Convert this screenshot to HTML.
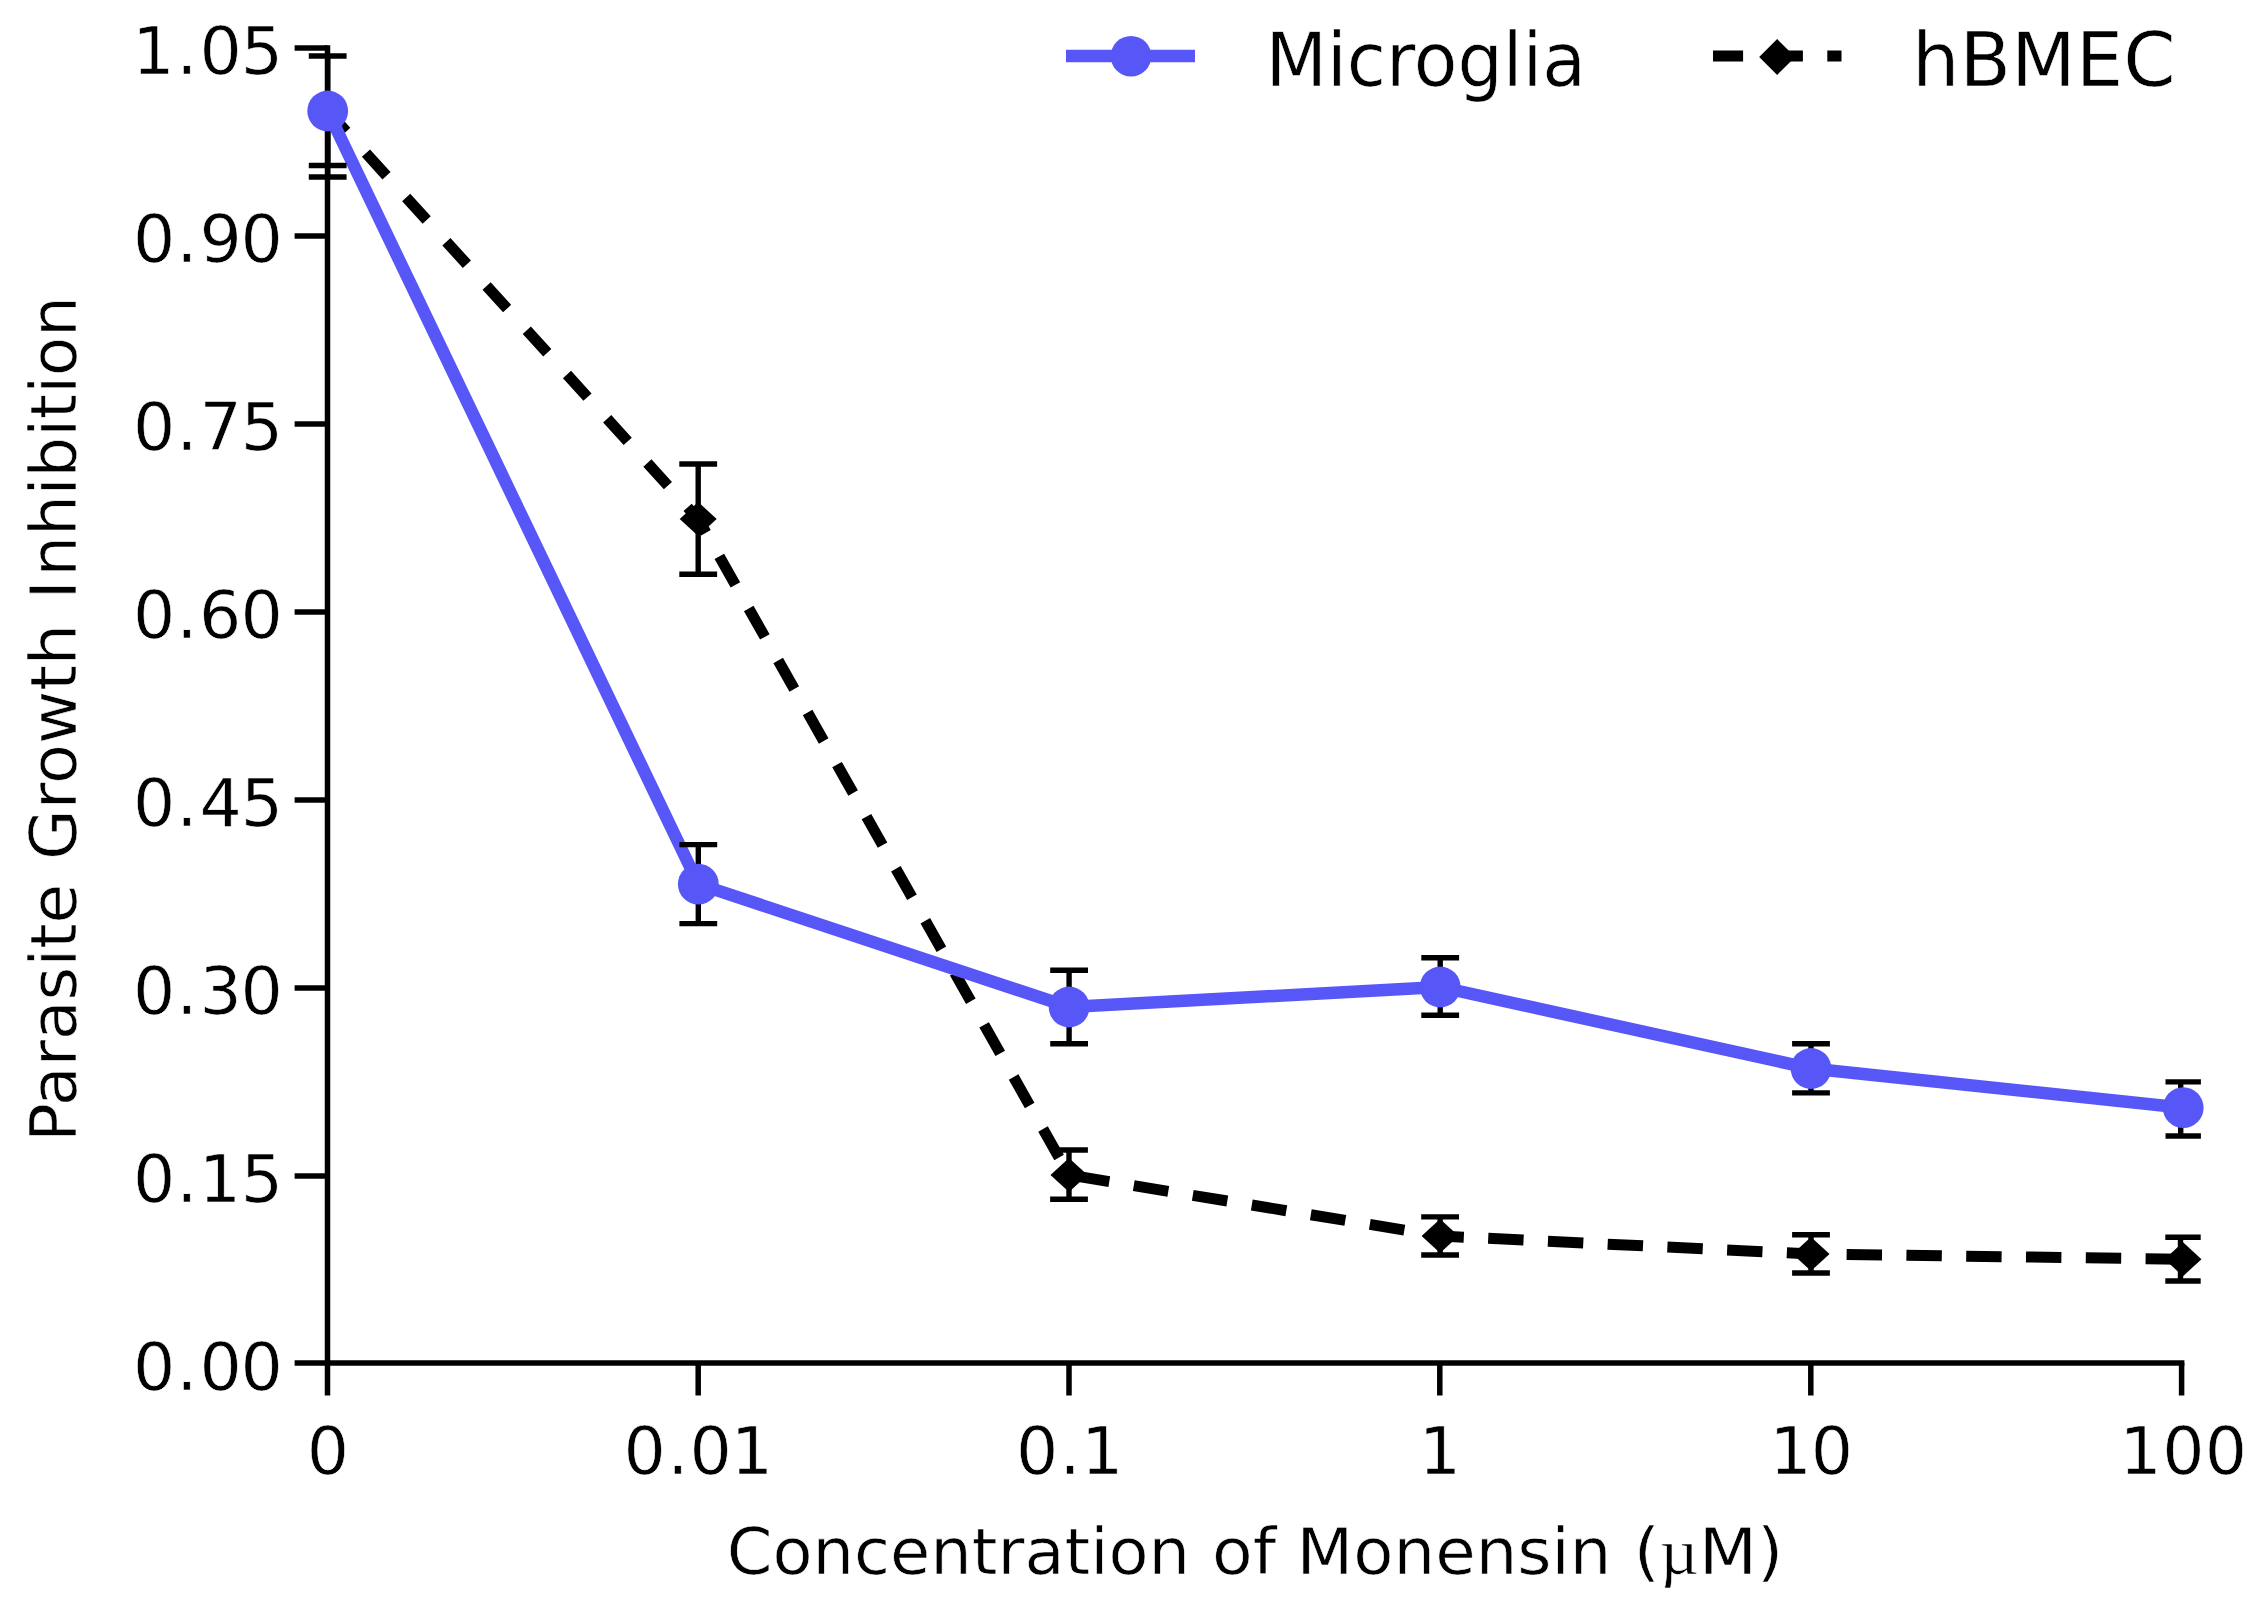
<!DOCTYPE html>
<html lang="en"><head><meta charset="utf-8"><title>Parasite Growth Inhibition vs Concentration of Monensin</title>
<style>html,body{margin:0;padding:0;background:#fff;}body{width:2266px;height:1615px;overflow:hidden;}svg{display:block;}text{font-family:'DejaVu Sans', 'Liberation Sans', sans-serif;fill:#000;stroke:#fff;stroke-width:0.6px;paint-order:fill stroke;}</style>
</head><body>
<svg width="2266" height="1615" viewBox="0 0 2266 1615">
<rect width="2266" height="1615" fill="#fff"/>
<g stroke="#000" stroke-width="5.5" fill="none" stroke-linecap="butt">
<line x1="327.5" y1="45.2" x2="327.5" y2="1395.5"/>
<line x1="294.6" y1="1363.0" x2="2184.4" y2="1363.0"/>
<line x1="294.6" y1="48.0" x2="327.5" y2="48.0"/>
<line x1="294.6" y1="236.0" x2="327.5" y2="236.0"/>
<line x1="294.6" y1="424.0" x2="327.5" y2="424.0"/>
<line x1="294.6" y1="612.0" x2="327.5" y2="612.0"/>
<line x1="294.6" y1="800.0" x2="327.5" y2="800.0"/>
<line x1="294.6" y1="988.0" x2="327.5" y2="988.0"/>
<line x1="294.6" y1="1176.0" x2="327.5" y2="1176.0"/>
<line x1="698.2" y1="1363.0" x2="698.2" y2="1395.5"/>
<line x1="1069.0" y1="1363.0" x2="1069.0" y2="1395.5"/>
<line x1="1439.8" y1="1363.0" x2="1439.8" y2="1395.5"/>
<line x1="1810.8" y1="1363.0" x2="1810.8" y2="1395.5"/>
<line x1="2181.6" y1="1363.0" x2="2181.6" y2="1395.5"/>
</g>
<g stroke="#000" stroke-width="11" fill="none" stroke-linecap="butt">
<line x1="327.7" y1="111.0" x2="698.2" y2="519.0" stroke-dasharray="30.5 29.3" stroke-dashoffset="2.85"/>
<line x1="698.2" y1="519.0" x2="1069.0" y2="1175.0" stroke-dasharray="32.7 27.1" stroke-dashoffset="16.87"/>
<line x1="1069.0" y1="1175.0" x2="1440.1" y2="1236.0" stroke-dasharray="35.0 24.8" stroke-dashoffset="53.96"/>
<line x1="1440.1" y1="1236.0" x2="1811.0" y2="1254.0" stroke-dasharray="35.4 24.4" stroke-dashoffset="11.65"/>
<line x1="1811.0" y1="1254.0" x2="2183.0" y2="1259.2" stroke-dasharray="35.4 24.4" stroke-dashoffset="24.18"/>
</g>
<polyline fill="none" stroke="#5757f8" stroke-width="12.5" stroke-linejoin="round" points="327.7,111.0 698.3,884.1 1069.1,1007.0 1440.2,987.0 1811.0,1068.5 2183.2,1107.7"/>
<g stroke="#000" stroke-width="5.4" fill="none">
<line x1="327.7" y1="111.0" x2="327.7" y2="177.0"/>
<line x1="308.8" y1="177.0" x2="346.6" y2="177.0"/>
<line x1="698.2" y1="464.0" x2="698.2" y2="574.3"/>
<line x1="679.3" y1="464.0" x2="717.1" y2="464.0"/>
<line x1="679.3" y1="574.3" x2="717.1" y2="574.3"/>
<line x1="1069.0" y1="1150.0" x2="1069.0" y2="1199.2"/>
<line x1="1050.1" y1="1150.0" x2="1087.9" y2="1150.0"/>
<line x1="1050.1" y1="1199.2" x2="1087.9" y2="1199.2"/>
<line x1="1440.1" y1="1216.9" x2="1440.1" y2="1255.0"/>
<line x1="1421.2" y1="1216.9" x2="1459.0" y2="1216.9"/>
<line x1="1421.2" y1="1255.0" x2="1459.0" y2="1255.0"/>
<line x1="1811.0" y1="1234.7" x2="1811.0" y2="1273.0"/>
<line x1="1792.1" y1="1234.7" x2="1829.9" y2="1234.7"/>
<line x1="1792.1" y1="1273.0" x2="1829.9" y2="1273.0"/>
<line x1="2180.5" y1="1237.3" x2="2180.5" y2="1281.0"/>
<line x1="2165.3" y1="1237.3" x2="2200.7" y2="1237.3"/>
<line x1="2165.3" y1="1281.0" x2="2200.7" y2="1281.0"/>
<line x1="327.7" y1="56.0" x2="327.7" y2="165.5"/>
<line x1="308.8" y1="56.0" x2="346.6" y2="56.0"/>
<line x1="308.8" y1="165.5" x2="346.6" y2="165.5"/>
<line x1="698.3" y1="844.6" x2="698.3" y2="923.6"/>
<line x1="679.4" y1="844.6" x2="717.2" y2="844.6"/>
<line x1="679.4" y1="923.6" x2="717.2" y2="923.6"/>
<line x1="1069.1" y1="970.2" x2="1069.1" y2="1043.7"/>
<line x1="1050.2" y1="970.2" x2="1088.0" y2="970.2"/>
<line x1="1050.2" y1="1043.7" x2="1088.0" y2="1043.7"/>
<line x1="1440.2" y1="957.8" x2="1440.2" y2="1015.2"/>
<line x1="1421.3" y1="957.8" x2="1459.1" y2="957.8"/>
<line x1="1421.3" y1="1015.2" x2="1459.1" y2="1015.2"/>
<line x1="1811.0" y1="1043.8" x2="1811.0" y2="1092.9"/>
<line x1="1792.1" y1="1043.8" x2="1829.9" y2="1043.8"/>
<line x1="1792.1" y1="1092.9" x2="1829.9" y2="1092.9"/>
<line x1="2180.7" y1="1081.9" x2="2180.7" y2="1136.0"/>
<line x1="2165.5" y1="1081.9" x2="2200.9" y2="1081.9"/>
<line x1="2165.5" y1="1136.0" x2="2200.9" y2="1136.0"/>
</g>
<polygon fill="#000" points="679.7,519.0 698.2,502.0 716.7,519.0 698.2,536.0"/>
<polygon fill="#000" points="1050.5,1175.0 1069.0,1158.0 1087.5,1175.0 1069.0,1192.0"/>
<polygon fill="#000" points="1421.6,1236.0 1440.1,1219.0 1458.6,1236.0 1440.1,1253.0"/>
<polygon fill="#000" points="1792.5,1254.0 1811.0,1237.0 1829.5,1254.0 1811.0,1271.0"/>
<polygon fill="#000" points="2164.5,1259.2 2183.0,1242.2 2201.5,1259.2 2183.0,1276.2"/>
<circle cx="327.7" cy="111.0" r="20.4" fill="#5757f8"/>
<circle cx="698.3" cy="884.1" r="20.4" fill="#5757f8"/>
<circle cx="1069.1" cy="1007.0" r="20.4" fill="#5757f8"/>
<circle cx="1440.2" cy="987.0" r="20.4" fill="#5757f8"/>
<circle cx="1811.0" cy="1068.5" r="20.4" fill="#5757f8"/>
<circle cx="2183.2" cy="1107.7" r="20.4" fill="#5757f8"/>
<line x1="1066" y1="56" x2="1195" y2="56" stroke="#5757f8" stroke-width="12.4"/>
<circle cx="1131" cy="56.2" r="20.3" fill="#5757f8"/>
<line x1="1713" y1="56" x2="1841.5" y2="56" stroke="#000" stroke-width="11" stroke-dasharray="35.4 24.4" stroke-dashoffset="5.3"/>
<polygon fill="#000" points="1759.2,57.0 1777.2,39.1 1795.2,57.0 1777.2,74.9"/>
<text x="132.2 176.2 199.4 240.8" y="73.5" font-size="66.5">1.05</text>
<text x="132.9 176.2 199.6 240.6" y="261.5" font-size="66.5">0.90</text>
<text x="132.9 176.2 199.5 240.8" y="449.5" font-size="66.5">0.75</text>
<text x="132.9 176.2 199.1 240.6" y="637.5" font-size="66.5">0.60</text>
<text x="132.9 176.2 199.6 240.8" y="825.5" font-size="66.5">0.45</text>
<text x="132.9 176.2 199.6 240.6" y="1013.5" font-size="66.5">0.30</text>
<text x="132.9 176.2 198.7 240.8" y="1201.5" font-size="66.5">0.15</text>
<text x="132.9 176.2 199.4 240.6" y="1389.5" font-size="66.5">0.00</text>
<text x="306.7" y="1474.0" font-size="66.5">0</text>
<text x="623.5 667.2 689.4 730.8" y="1474.0" font-size="66.5">0.01</text>
<text x="1015.9 1059.6 1081.0" y="1474.0" font-size="66.5">0.1</text>
<text x="1418.8" y="1474.0" font-size="66.5">1</text>
<text x="1769.6 1810.8" y="1474.0" font-size="66.5">10</text>
<text x="2119.4 2162.2 2204.7" y="1474.0" font-size="66.5">100</text>
<text x="1265.5" y="86.0" font-size="75.3" textLength="320.5" lengthAdjust="spacingAndGlyphs">Microglia</text>
<text x="1912.0" y="86.0" font-size="75.3" textLength="263.6" lengthAdjust="spacingAndGlyphs">hBMEC</text>
<text x="726.8" y="1574.0" font-size="64.8" textLength="463.2" lengthAdjust="spacingAndGlyphs">Concentration</text>
<text x="1212.1" y="1574.0" font-size="64.8" textLength="64.1" lengthAdjust="spacingAndGlyphs">of</text>
<text x="1296.6" y="1574.0" font-size="64.8" textLength="314.9" lengthAdjust="spacingAndGlyphs">Monensin</text>
<text x="1633.5" y="1574" font-size="64.8" textLength="150" lengthAdjust="spacingAndGlyphs">(<tspan font-family="'Liberation Serif', 'DejaVu Serif', serif">µ</tspan>M)</text>
<g transform="translate(76,1200.0) rotate(-90)">
<text x="57.9" y="0.0" font-size="64.8" textLength="258.3" lengthAdjust="spacingAndGlyphs">Parasite</text>
<text x="340.1" y="0.0" font-size="64.8" textLength="236.1" lengthAdjust="spacingAndGlyphs">Growth</text>
<text y="0" font-size="64.8"><tspan x="600.6">I</tspan><tspan x="623.6" textLength="280.2" lengthAdjust="spacingAndGlyphs">nhibition</tspan></text>
</g>
</svg></body></html>
